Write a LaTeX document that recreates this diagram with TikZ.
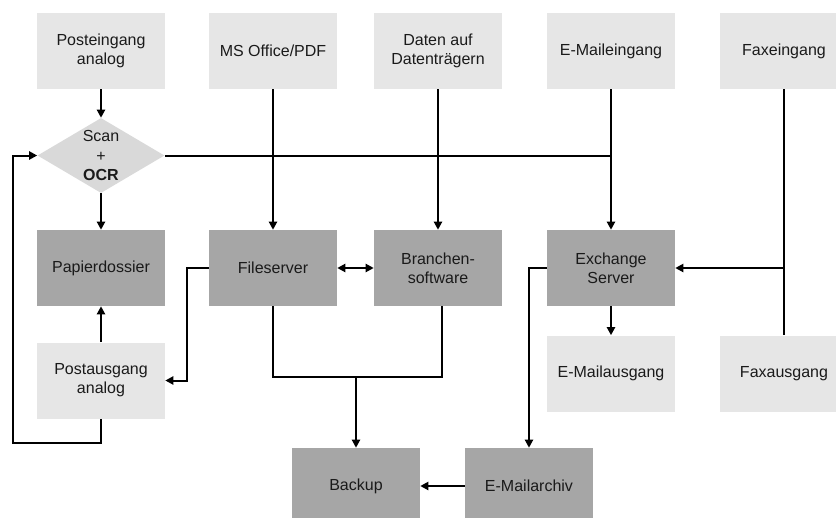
\documentclass[tikz,border=0pt]{standalone}
\usepackage{fontspec}
\setmainfont{Liberation Sans}
\usetikzlibrary{shapes.geometric,arrows.meta}
\definecolor{lightbox}{HTML}{E6E6E6}
\definecolor{darkbox}{HTML}{A6A6A6}
\definecolor{diafill}{HTML}{D9D9D9}
\definecolor{txt}{HTML}{1A1A1A}
\begin{document}
\begin{tikzpicture}[x=0.75pt,y=-0.75pt,
  box/.style={rectangle, minimum width=96pt, minimum height=57pt, inner sep=0pt, align=center, font=\fontsize{12}{14.4}\selectfont, text=txt},
  lbox/.style={box, fill=lightbox},
  dbox/.style={box, fill=darkbox},
  conn/.style={line width=1.5pt, black},
  arr/.style={conn, -{Triangle[width=6pt,length=6pt]}},
  darr/.style={conn, {Triangle[width=6pt,length=6pt]}-{Triangle[width=6pt,length=6pt]}}]
\clip (0,0) rectangle (836,518);
\fill[white] (0,0) rectangle (836,518);
% top row
\node[lbox] (pin) at (101,51) {Posteingang\\analog};
\node[lbox] (ms) at (273,51) {MS Office/PDF};
\node[lbox] (daten) at (438,51) {Daten auf\\Datenträgern};
\node[lbox] (emin) at (611,51) {E-Maileingang};
\node[lbox] (faxin) at (784,51) {Faxeingang};
% diamond
\node[diamond, fill=diafill, minimum width=95.25pt, minimum height=56.25pt, inner sep=0pt,
  label={[align=center, font=\fontsize{12}{14.6}\selectfont, text=txt]center:Scan\\+\\\textbf{OCR}}] (scan) at (101,155.5) {};
% second row
\node[dbox] (pap) at (101,268) {Papierdossier};
\node[dbox] (file) at (273,268) {Fileserver};
\node[dbox] (bra) at (438,268) {Branchen-\\software};
\node[dbox] (exch) at (611,268) {Exchange\\Server};
% third row
\node[lbox] (pout) at (101,380.5) {Postausgang\\analog};
\node[lbox] (emout) at (611,373.5) {E-Mailausgang};
\node[lbox] (faxout) at (784,373.5) {Faxausgang};
% bottom
\node[dbox] (backup) at (356,486) {Backup};
\node[dbox] (archiv) at (529,486) {E-Mailarchiv};
% connectors
\draw[arr] (pin) -- (scan);
\draw[arr] (scan) -- (pap);
\draw[conn] (scan.east) -- (scan.east -| emin.south);
\draw[arr] (ms) -- (file);
\draw[arr] (daten) -- (bra);
\draw[arr] (emin) -- (exch);
\draw[conn] (faxin) -- (faxout);
\draw[arr] (faxin.south |- exch.east) -- (exch.east);
\draw[darr] (file) -- (bra);
\draw[arr] (file.west) -- ++(-22,0) |- (pout.east);
\draw[arr] (pout) -- (pap);
\draw[arr] (pout.south) -- ++(0,24) -- ++(-88,0) |- (scan.west);
\draw[conn] (file.south) -- ++(0,71) -- ++(169,0) -- ([xshift=3pt]bra.south);
\coordinate (j) at (356,377);
\draw[arr] (j) -- (backup.north);
\draw[arr] (exch.west) -| (archiv.north);
\draw[arr] (exch) -- (emout);
\draw[arr] (archiv) -- (backup);
\end{tikzpicture}
\end{document}
